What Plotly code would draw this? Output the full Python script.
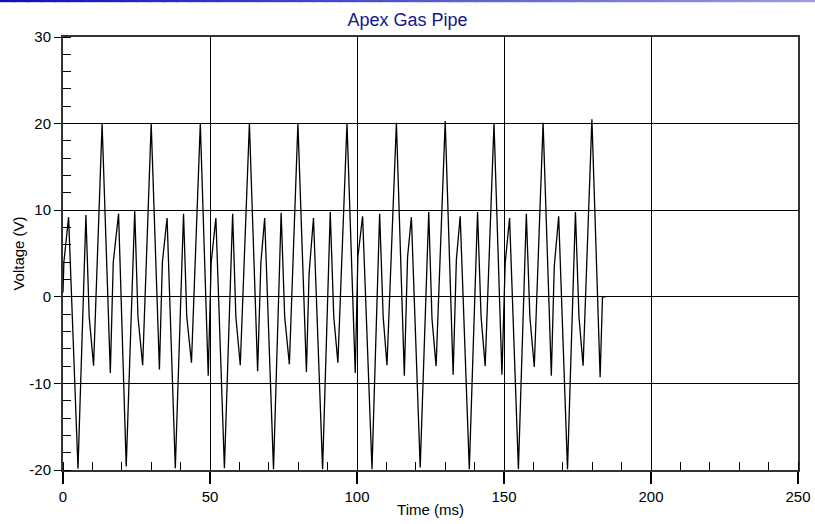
import plotly.graph_objects as go

# ---- data ----
time_ms = [0, 0.3, 1.9, 5.1,
           7.8, 8.9, 10.4, 13.3, 16.1, 17.1, 18.9, 21.5,
           24.4, 25.5, 27.1, 30.0, 32.8, 33.8, 35.4, 38.2,
           41.0, 42.1, 43.7, 46.7, 49.4, 50.4, 52.0, 54.9,
           57.7, 58.8, 60.3, 63.4, 66.2, 67.3, 68.6, 71.6,
           74.2, 75.4, 77.0, 79.9, 82.8, 83.7, 85.2, 88.3,
           90.9, 92.1, 93.5, 96.6, 99.4, 100.3, 101.9, 105.1,
           107.7, 108.9, 110.2, 113.4, 116.1, 117.2, 118.5, 121.5,
           124.4, 125.5, 126.9, 130.0, 132.7, 133.8, 135.1, 138.2,
           141.0, 142.2, 143.6, 146.6, 149.3, 150.4, 151.9, 154.9,
           157.6, 158.8, 160.3, 163.3, 166.1, 167.1, 168.6, 171.6,
           174.3, 175.5, 176.9, 179.9, 182.7, 183.5, 184.5]
voltage_v = [0.5, 4.0, 9.2, -19.85,
             9.45, -2.3, -7.95, 20.0, -8.8, 4.0, 9.6, -19.6,
             9.9, -2.3, -7.9, 20.0, -8.4, 4.0, 9.1, -19.8,
             9.6, -2.3, -7.6, 20.0, -9.1, 4.0, 9.1, -19.8,
             9.6, -2.3, -7.9, 20.0, -8.6, 3.9, 9.1, -19.9,
             9.7, -2.3, -7.8, 20.0, -8.7, 2.7, 9.1, -19.9,
             9.8, -2.3, -7.6, 20.0, -8.8, 4.6, 9.3, -19.9,
             9.6, -2.3, -7.9, 20.1, -9.1, 4.6, 9.2, -19.7,
             9.8, -2.5, -8.0, 20.3, -9.0, 4.3, 9.3, -19.9,
             9.8, -2.3, -8.0, 20.0, -9.0, 3.9, 9.1, -19.9,
             9.6, -2.3, -8.1, 20.1, -9.1, 3.5, 9.3, -19.9,
             9.8, -2.3, -7.95, 20.5, -9.3, 0.0, 0.0]

x_ticks = [0, 50, 100, 150, 200, 250]
y_ticks = [-20, -10, 0, 10, 20, 30]

FONT = "Liberation Sans Narrow, Arial Narrow, Liberation Sans, Arial, sans-serif"

fig = go.Figure()
fig.add_trace(go.Scatter(x=time_ms, y=voltage_v, mode="lines",
                         line=dict(color="#000000", width=1.3),
                         hoverinfo="skip", showlegend=False))

# gradient bar along the top edge of the page
W, H = 815, 524
ml, mr, mt, mb = 63, 17, 37, 54
pw, ph = W - ml - mr, H - mt - mb
n = 60
c0, c1 = (15, 15, 190), (155, 155, 222)
for i in range(n):
    f = i / (n - 1)
    col = "rgb(%d,%d,%d)" % tuple(int(a + (b - a) * f) for a, b in zip(c0, c1))
    x0 = (i * W / n - ml) / pw
    x1 = ((i + 1) * W / n - ml) / pw
    fig.add_shape(type="rect", xref="paper", yref="paper",
                  x0=x0, x1=x1 + 0.002, y0=1 + (mt - 2.2) / ph, y1=1 + mt / ph,
                  line=dict(width=0), fillcolor=col, layer="above")

fig.update_layout(
    width=W, height=H,
    margin=dict(l=ml, r=mr, t=mt, b=mb, autoexpand=False),
    paper_bgcolor="white", plot_bgcolor="white",
    font=dict(family=FONT, color="black", size=15),
    title=dict(text="Apex Gas Pipe", x=0.5, xanchor="center",
               y=1 - 20 / H, yanchor="middle", yref="container",
               font=dict(family=FONT, size=18, color="#16168c")),
    showlegend=False,
)
fig.update_xaxes(
    range=[0, 250], tickvals=x_ticks, ticktext=[str(v) for v in x_ticks],
    showgrid=True, gridcolor="black", gridwidth=1,
    showline=True, linecolor="#333333", linewidth=2, mirror=True,
    ticks="outside", ticklen=12, tickcolor="black", tickwidth=1.5,
    minor=dict(dtick=10, ticks="inside", ticklen=8, tickcolor="black", tickwidth=1.2, showgrid=False),
    zeroline=False, automargin=False,
    title=dict(text="Time (ms)", font=dict(family=FONT, size=15), standoff=0),
    tickfont=dict(family=FONT, size=15),
)
fig.update_yaxes(
    range=[-20, 30], tickvals=y_ticks, ticktext=[str(v) for v in y_ticks],
    showgrid=True, gridcolor="black", gridwidth=1,
    showline=True, linecolor="#333333", linewidth=2, mirror=True,
    ticks="outside", ticklen=7, tickcolor="black", tickwidth=1.2,
    minor=dict(dtick=2, ticks="inside", ticklen=8, tickcolor="black", tickwidth=1.2, showgrid=False),
    zeroline=False, automargin=False,
    title=dict(text="Voltage (V)", font=dict(family=FONT, size=15), standoff=1),
    tickfont=dict(family=FONT, size=15),
)

fig.write_html("out.html")
